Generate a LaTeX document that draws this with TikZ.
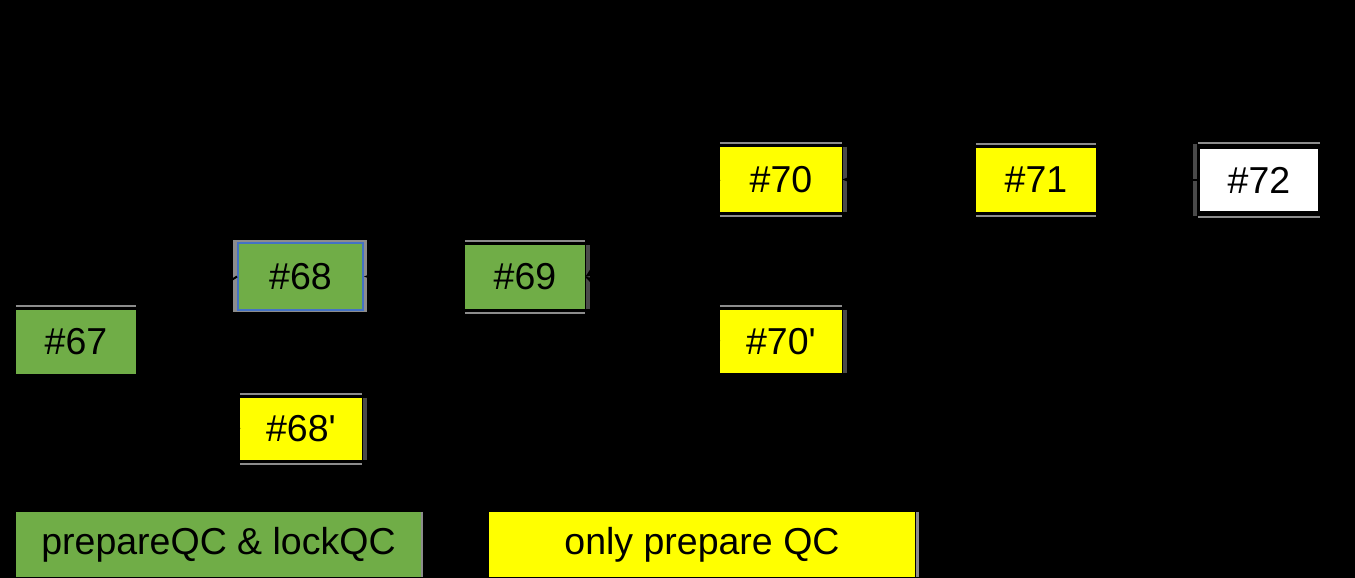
\documentclass[tikz,border=0pt]{standalone}
\usepackage{fontspec}
\setmainfont{Liberation Sans}[Ligatures=TeXOff]
\usetikzlibrary{arrows.meta}
\definecolor{qgreen}{HTML}{70AD47}
\definecolor{qyellow}{HTML}{FFFF00}
\definecolor{qblue}{HTML}{4472C4}
\definecolor{framegray}{HTML}{8C8C8C}
\definecolor{edgedark}{HTML}{4A4A4A}
\tikzset{
  blk/.style={inner sep=0pt, font=\fontsize{37.5}{41}\selectfont, text=black},
  gbox/.style={blk, fill=qgreen},
  ybox/.style={blk, fill=qyellow},
  wbox/.style={blk, fill=white, draw=black, line width=2.5pt},
  frame/.style={draw=framegray, line width=2.2pt},
  darkedge/.style={draw=edgedark, line width=4pt},
  link/.style={draw=black, line width=2pt, -{Stealth[length=9pt]}}
}
\begin{document}
\begin{tikzpicture}[x=1pt,y=-1pt]
\fill[black] (0,0) rectangle (1355,578);
\useasboundingbox (0,0) rectangle (1355,578);

% gray backing of the selected block #68
\fill[framegray] (233,240) rectangle (367,312);

\node[gbox, minimum width=120pt, minimum height=64pt] (n67) at (76,342) {\#67};
\node[gbox, draw=qblue, line width=2pt, minimum width=125pt, minimum height=67pt] (n68) at (300.5,276.5) {\#68};
\node[ybox, minimum width=122pt, minimum height=62pt] (n68p) at (301,429) {\#68'};
\node[gbox, minimum width=120pt, minimum height=64pt] (n69) at (525,277) {\#69};
\node[ybox, minimum width=122pt, minimum height=65pt] (n70) at (781,179.5) {\#70};
\node[ybox, minimum width=122pt, minimum height=63pt] (n70p) at (781,341.5) {\#70'};
\node[ybox, minimum width=120pt, minimum height=64pt] (n71) at (1036,180) {\#71};
\node[wbox, minimum width=120pt, minimum height=64pt] (n72) at (1259,180) {\#72};

\node[gbox, minimum width=405pt, minimum height=65pt] (lg) at (218.5,544.5) {\raisebox{-3pt}{prepareQC \& lockQC}};
\node[ybox, minimum width=426pt, minimum height=65pt] (ly) at (702,544.5) {\raisebox{-3pt}{only prepare QC}};

% thin gray frame lines above / below the blocks
\foreach \n in {n68p,n69,n70,n71,n72}{
  \draw[frame] ([yshift=3.5pt]\n.north west) -- ([yshift=3.5pt]\n.north east);
  \draw[frame] ([yshift=-3.5pt]\n.south west) -- ([yshift=-3.5pt]\n.south east);
}
\foreach \n in {n67,n70p}{
  \draw[frame] ([yshift=3.5pt]\n.north west) -- ([yshift=3.5pt]\n.north east);
}
% darker right edges
\foreach \n in {n68p,n69,n70,n70p}{
  \draw[darkedge] ([xshift=2.5pt]\n.north east) -- ([xshift=2.5pt]\n.south east);
}
\draw[darkedge] ([xshift=-3pt,yshift=3pt]n72.north west) -- ([xshift=-3pt,yshift=-3pt]n72.south west);
\draw[framegray, line width=2pt] ([xshift=1pt]lg.north east) -- ([xshift=1pt]lg.south east);
\draw[framegray, line width=3pt] ([xshift=2pt]ly.north east) -- ([xshift=2pt]ly.south east);

% chain links (black on the black ground)
\draw[link] (n68.west) -- (n67.east);
\draw[link] (n68p.west) -- (n67.east);
\draw[link] (n69.west) -- (n68.east);
\draw[link] (n70.west) -- (n69.east);
\draw[link] (n70p.west) -- (n69.east);
\draw[link] (n71.west) -- (n70.east);
\draw[link] (n72.west) -- (n71.east);
\end{tikzpicture}
\end{document}
